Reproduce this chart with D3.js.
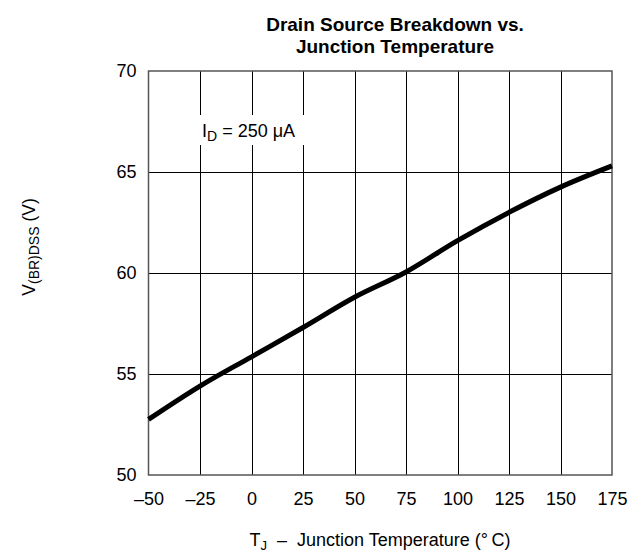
<!DOCTYPE html>
<html>
<head>
<meta charset="utf-8">
<script src="https://cdn.jsdelivr.net/npm/d3@7"></script>
<style>
  html, body { margin: 0; padding: 0; background: #fff; }
  svg { display: block; font-family: "Liberation Sans", Arial, Helvetica, sans-serif; }
</style>
</head>
<body>
<svg id="chart" width="629" height="552"></svg>
<script>
// Junction temperature (°C)
const temps = [-50, -25, 0, 25, 50, 75, 100, 125, 150, 175];
// Drain-source breakdown voltage V(BR)DSS (V)
const vbr = [52.75, 54.4, 55.85, 57.3, 58.8, 60.05, 61.6, 63.0, 64.25, 65.3];

const xTicks = [-50, -25, 0, 25, 50, 75, 100, 125, 150, 175];
const yTicks = [50, 55, 60, 65, 70];

const titleLines = ["Drain Source Breakdown vs.", "Junction Temperature"];

const svg = d3.select("#chart");
const plotL = 148.5, plotR = 612, plotT = 71, plotB = 475;

const x = d3.scaleLinear().domain([-50, 175]).range([plotL, plotR]);
const y = d3.scaleLinear().domain([50, 70]).range([plotB, plotT]);

// grid
const grid = svg.append("g").attr("stroke", "#000").attr("stroke-width", 1).attr("shape-rendering", "crispEdges");
grid.selectAll(".vx").data(xTicks.slice(1, -1)).join("line")
  .attr("x1", d => Math.round(x(d)) + 0.5).attr("x2", d => Math.round(x(d)) + 0.5)
  .attr("y1", plotT).attr("y2", plotB);
grid.selectAll(".hy").data(yTicks.slice(1, -1)).join("line")
  .attr("x1", plotL).attr("x2", plotR)
  .attr("y1", d => Math.round(y(d)) + 0.5).attr("y2", d => Math.round(y(d)) + 0.5);

// condition label with a white backing box
const note = svg.append("g");
note.append("rect")
  .attr("x", 195).attr("y", 115).attr("width", 112).attr("height", 30)
  .attr("fill", "#fff");
const noteText = note.append("text")
  .attr("x", 202).attr("y", 137)
  .attr("font-size", 18).attr("fill", "#000");
noteText.append("tspan").text("I");
noteText.append("tspan").attr("font-size", 14).attr("dy", 4).text("D");
noteText.append("tspan").attr("dy", -4).text(" = 250 μA");

// frame
svg.append("rect")
  .attr("x", plotL).attr("y", plotT)
  .attr("width", plotR - plotL).attr("height", plotB - plotT)
  .attr("fill", "none").attr("stroke", "#555").attr("stroke-width", 1.5);

// curve
const line = d3.line()
  .x((d, i) => x(temps[i]))
  .y(d => y(d))
  .curve(d3.curveMonotoneX);
svg.append("path")
  .datum(vbr)
  .attr("d", line)
  .attr("fill", "none")
  .attr("stroke", "#000")
  .attr("stroke-width", 5)
  .attr("stroke-linejoin", "round");

// axes (labels only)
const fmt = d => (d < 0 ? "\u2013" + Math.abs(d) : String(d));
const xAxis = svg.append("g")
  .attr("transform", `translate(0,${plotB})`)
  .call(d3.axisBottom(x).tickValues(xTicks).tickSize(0).tickPadding(17).tickFormat(fmt));
const yAxis = svg.append("g")
  .attr("transform", `translate(${plotL},0)`)
  .call(d3.axisLeft(y).tickValues(yTicks).tickSize(0).tickPadding(12).tickFormat(fmt));
[xAxis, yAxis].forEach(a => {
  a.select(".domain").remove();
  a.selectAll("text").attr("font-size", 18).attr("fill", "#000")
    .attr("font-family", "'Liberation Sans', Arial, sans-serif");
});

// title, one text element per line
svg.append("g")
  .attr("font-size", 19).attr("font-weight", "bold").attr("fill", "#000")
  .attr("text-anchor", "middle")
  .selectAll("text").data(titleLines).join("text")
  .attr("x", 395).attr("y", (d, i) => 31 + i * 21.5)
  .text(d => d);

// x axis title
const xt = svg.append("text")
  .attr("x", 380).attr("y", 546)
  .attr("text-anchor", "middle")
  .attr("font-size", 18).attr("fill", "#000");
xt.append("tspan").text("T");
xt.append("tspan").attr("font-size", 13).attr("dy", 4).text("J");
xt.append("tspan").attr("dy", -4).text("\u00A0\u00A0\u2013\u00A0\u00A0Junction Temperature (\u00B0\u2009C)");

// y axis title
const yt = svg.append("text")
  .attr("transform", "translate(35,247) rotate(-90)")
  .attr("text-anchor", "middle")
  .attr("font-size", 17.5).attr("fill", "#000");
yt.append("tspan").text("V");
yt.append("tspan").attr("font-size", 14).attr("dy", 4).text("(BR)DSS");
yt.append("tspan").attr("dy", -4).text(" (V)");
</script>
</body>
</html>
